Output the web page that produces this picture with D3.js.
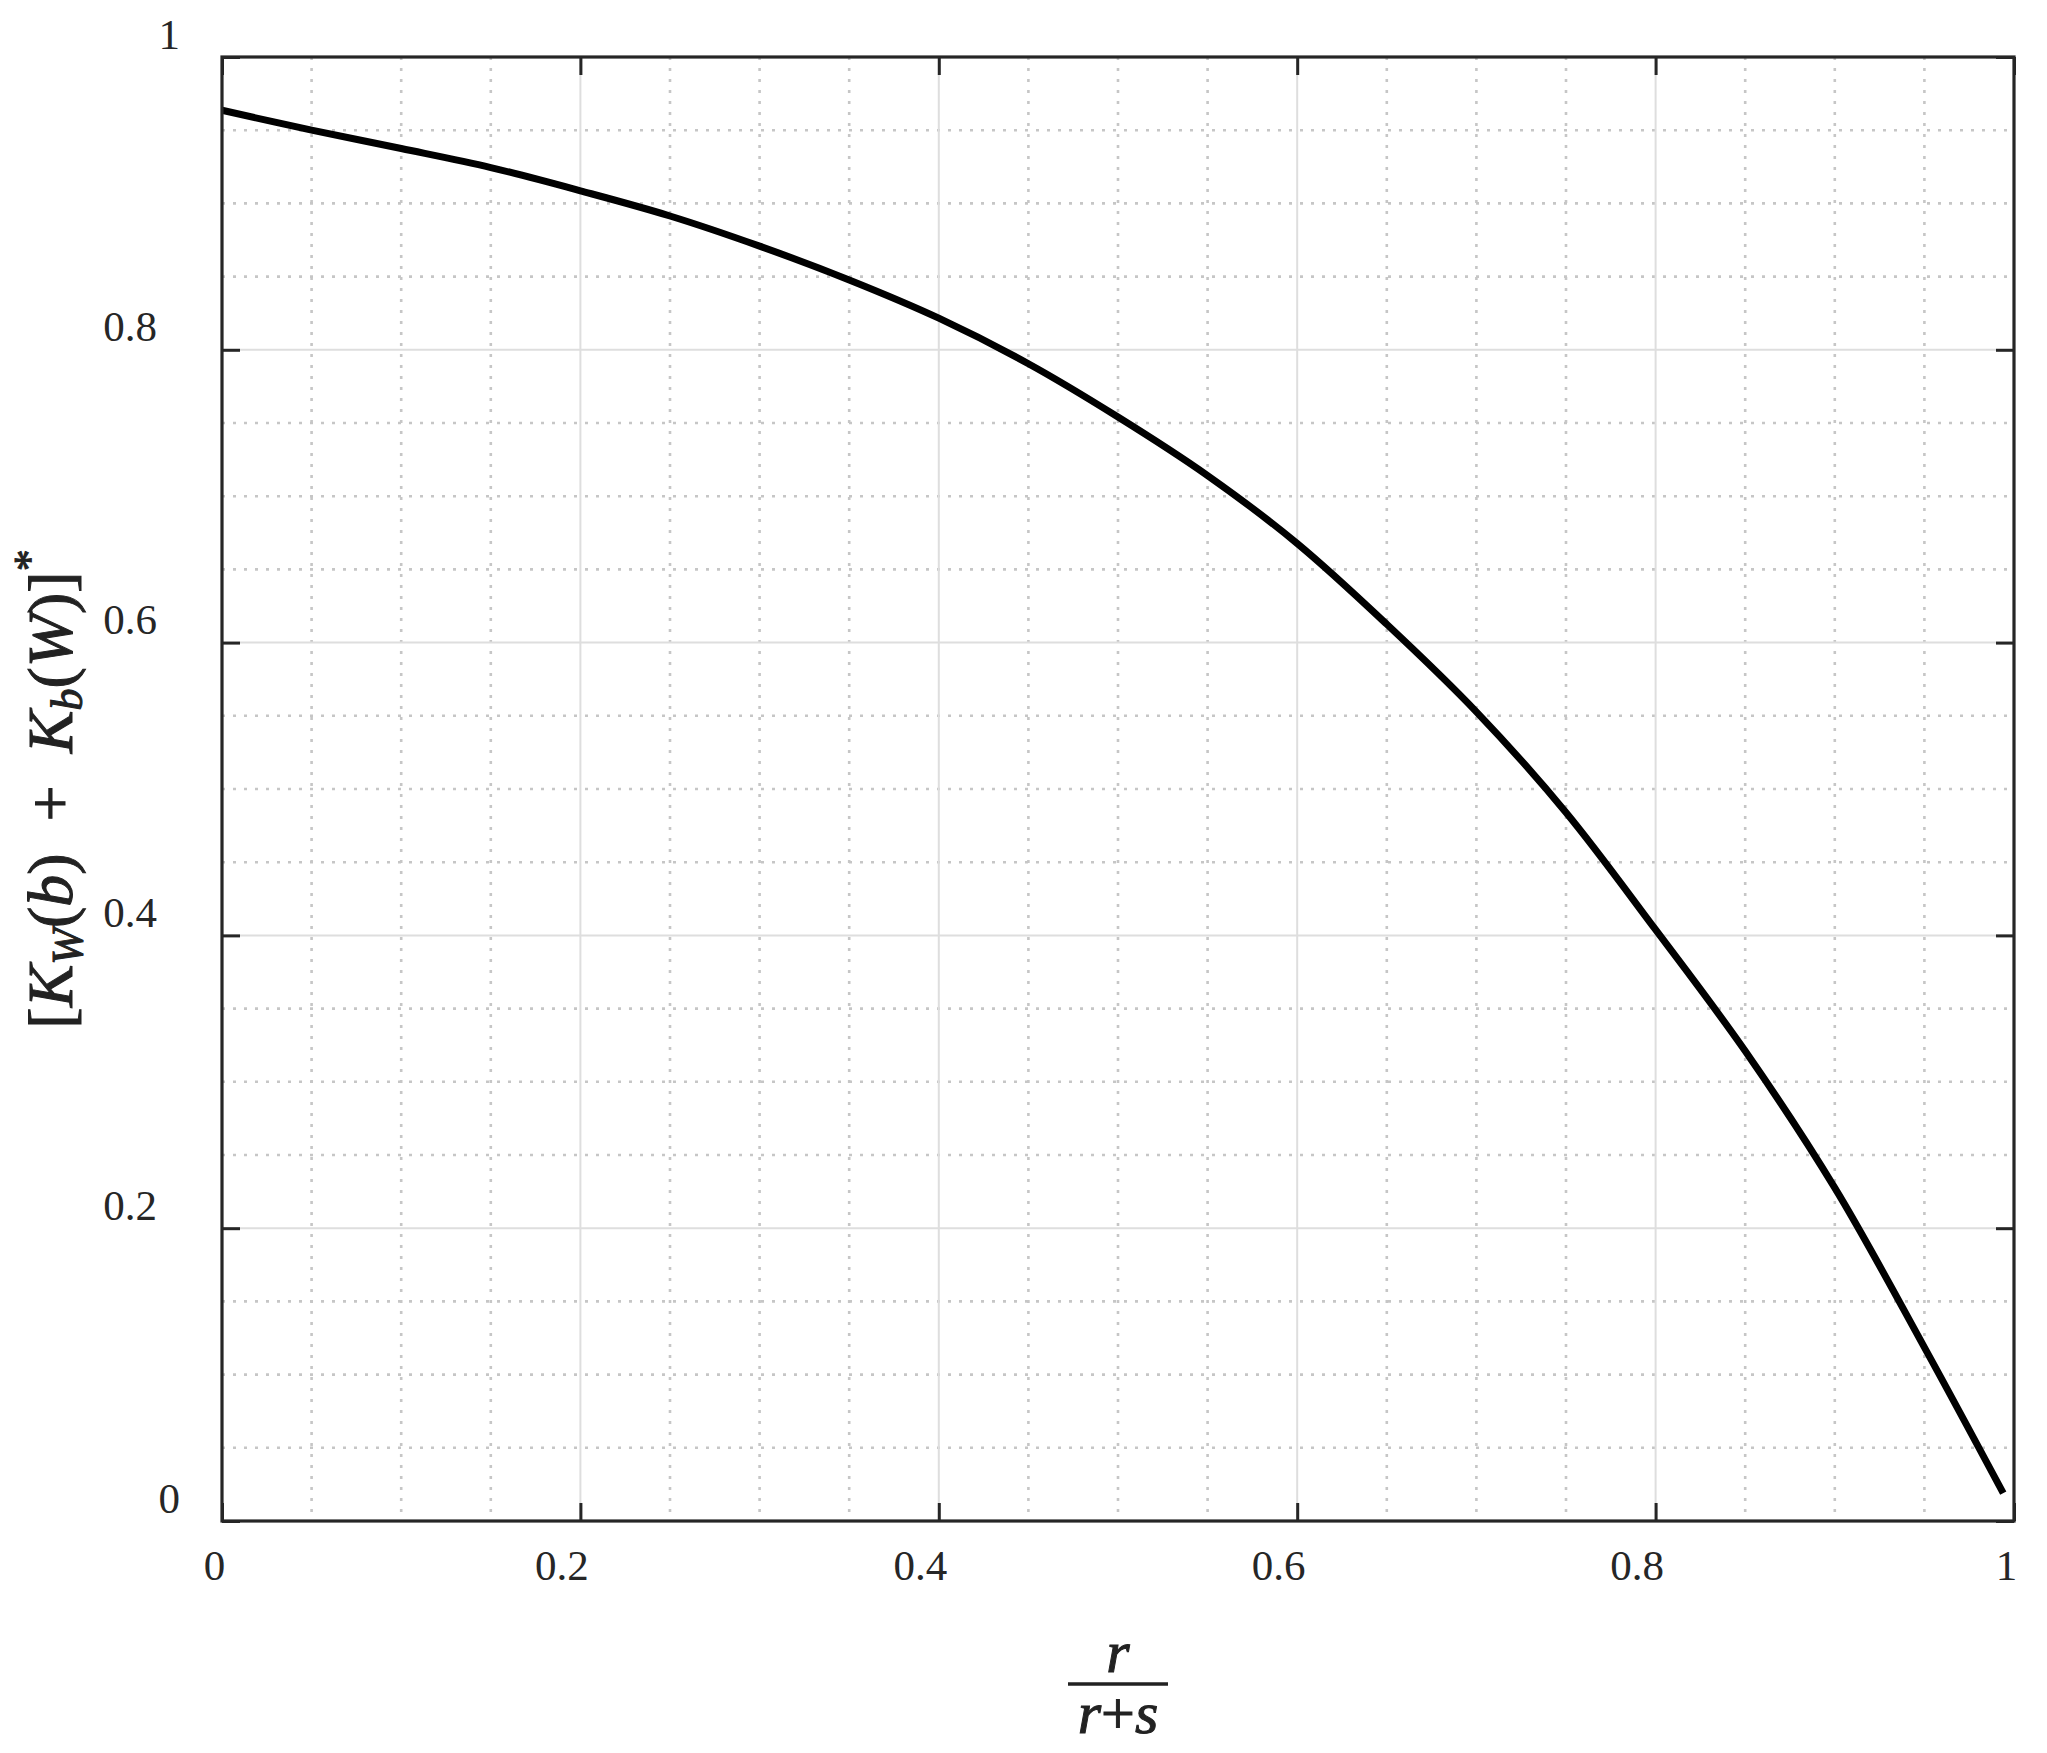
<!DOCTYPE html>
<html>
<head>
<meta charset="utf-8">
<script src="https://cdn.jsdelivr.net/npm/d3@7"></script>
<style>
  body { margin: 0; background: #fff; }
  svg { display: block; }
</style>
</head>
<body>
<svg id="chart"></svg>
<script>
// values
const ratio = [0, 0.05, 0.1, 0.15, 0.2, 0.25, 0.3, 0.35, 0.4, 0.45, 0.5, 0.55, 0.6, 0.65, 0.7, 0.75, 0.8, 0.85, 0.9, 0.95, 0.994];
const kSum = [0.9636, 0.950, 0.9375, 0.9245, 0.9086, 0.8914, 0.8708, 0.8477, 0.8216, 0.7905, 0.7541, 0.7141, 0.6677, 0.6125, 0.5527, 0.4840, 0.4039, 0.3210, 0.2275, 0.1186, 0.0190];

const xTicks = [0, 0.2, 0.4, 0.6, 0.8, 1];
const xTickLabels = ["0", "0.2", "0.4", "0.6", "0.8", "1"];
const yTicks = [0, 0.2, 0.4, 0.6, 0.8, 1];
const yTickLabels = ["0", "0.2", "0.4", "0.6", "0.8", "1"];
const minorStep = 0.05;

const width = 2047, height = 1753;
const margin = {top: 57, right: 33, bottom: 232, left: 222};
const innerW = width - margin.left - margin.right;
const innerH = height - margin.top - margin.bottom;
const axisColor = '#262626';
const serif = '"Liberation Serif", "Times New Roman", serif';

const svg = d3.select('#chart')
    .attr('width', width)
    .attr('height', height);

const chart = svg.append('g')
    .attr('transform', `translate(${margin.left}, ${margin.top})`);

const xscale = d3.scaleLinear().domain([0, 1]).range([0, innerW]);
const yscale = d3.scaleLinear().domain([0, 1]).range([innerH, 0]);

// minor grid (dotted), skipping major positions
const minor = d3.range(0, 1 + 1e-9, minorStep).filter(v => !xTicks.some(t => Math.abs(t - v) < 1e-6));

chart.append('g').selectAll('line')
    .data(minor)
    .join('line')
    .attr('x1', d => xscale(d)).attr('x2', d => xscale(d))
    .attr('y1', 0).attr('y2', innerH)
    .attr('stroke', '#c6c6c6').attr('stroke-width', 2.6)
    .attr('stroke-dasharray', '3,8');

chart.append('g').selectAll('line')
    .data(minor)
    .join('line')
    .attr('y1', d => yscale(d)).attr('y2', d => yscale(d))
    .attr('x1', 0).attr('x2', innerW)
    .attr('stroke', '#c6c6c6').attr('stroke-width', 2.6)
    .attr('stroke-dasharray', '3,8');

// major grid (solid)
chart.append('g').selectAll('line')
    .data(xTicks)
    .join('line')
    .attr('x1', d => xscale(d)).attr('x2', d => xscale(d))
    .attr('y1', 0).attr('y2', innerH)
    .attr('stroke', '#dedede').attr('stroke-width', 2);

chart.append('g').selectAll('line')
    .data(yTicks)
    .join('line')
    .attr('y1', d => yscale(d)).attr('y2', d => yscale(d))
    .attr('x1', 0).attr('x2', innerW)
    .attr('stroke', '#dedede').attr('stroke-width', 2);

// curve
const points = ratio.map((r, i) => [r, kSum[i]]);
chart.append('path')
    .datum(points)
    .attr('fill', 'none')
    .attr('stroke', '#000')
    .attr('stroke-width', 7)
    .attr('d', d3.line()
        .x(d => xscale(d[0]))
        .y(d => yscale(d[1]))
        .curve(d3.curveCatmullRom.alpha(0.5)));

// axes with inward ticks on all four sides
function styleAxis(g) {
    g.attr('font-family', null);
    g.select('.domain').remove();
    g.selectAll('.tick line').attr('stroke', axisColor).attr('stroke-width', 3);
    g.selectAll('.tick text')
        .attr('fill', axisColor)
        .style('font-family', serif)
        .attr('font-size', 43);
}

const xaxis = d3.axisBottom(xscale)
    .tickValues(xTicks)
    .tickFormat((d, i) => xTickLabels[i])
    .tickSize(-18);
chart.append('g')
    .attr('transform', `translate(0, ${innerH})`)
    .call(xaxis)
    .call(styleAxis)
    .call(g => g.selectAll('.tick text')
        .attr('y', 59).attr('dy', null)
        .attr('text-anchor', 'middle')
        .attr('dx', d => String(d).includes('.') ? -19 : -8));

chart.append('g')
    .call(d3.axisTop(xscale).tickValues(xTicks).tickFormat('').tickSize(-18))
    .call(styleAxis);

const yaxis = d3.axisLeft(yscale)
    .tickValues(yTicks)
    .tickFormat((d, i) => yTickLabels[i])
    .tickSize(-18);
chart.append('g')
    .call(yaxis)
    .call(styleAxis)
    .call(g => g.selectAll('.tick text')
        .attr('x', d => String(d).includes('.') ? -65 : -42)
        .attr('y', -9).attr('dy', null)
        .attr('text-anchor', 'end'));

chart.append('g')
    .attr('transform', `translate(${innerW}, 0)`)
    .call(d3.axisRight(yscale).tickValues(yTicks).tickFormat('').tickSize(-18))
    .call(styleAxis);

// box
chart.append('rect')
    .attr('x', 0).attr('y', 0)
    .attr('width', innerW).attr('height', innerH)
    .attr('fill', 'none')
    .attr('stroke', axisColor)
    .attr('stroke-width', 3.2);

// x label: r / (r+s)
const xl = svg.append('g')
    .attr('transform', `translate(${margin.left + innerW / 2}, 0)`)
    .attr('fill', '#222')
    .attr('stroke', '#222')
    .attr('stroke-width', 1);

xl.append('text')
    .attr('x', 0).attr('y', 1672)
    .attr('text-anchor', 'middle')
    .attr('font-size', 60)
    .style('font-family', serif)
    .style('font-style', 'italic')
    .text('r');

const den = xl.append('text')
    .attr('x', 0).attr('y', 1733)
    .attr('text-anchor', 'middle')
    .attr('font-size', 60)
    .style('font-family', serif);
den.append('tspan').style('font-style', 'italic').text('r');
den.append('tspan').text('+');
den.append('tspan').style('font-style', 'italic').text('s');

const bw = Math.max(100, den.node().getBBox().width + 4);
xl.append('line')
    .attr('x1', -bw / 2).attr('x2', bw / 2)
    .attr('y1', 1684).attr('y2', 1684)
    .attr('stroke-width', 3.5);

// y label: [K_W(b) + K_b(W)]^*
const yl = svg.append('text')
    .attr('transform', `translate(72, ${margin.top + innerH / 2}) rotate(-90)`)
    .attr('text-anchor', 'middle')
    .attr('font-size', 64)
    .style('font-family', serif)
    .attr('fill', '#222')
    .attr('stroke', '#222')
    .attr('stroke-width', 1);

yl.append('tspan').text('[');
yl.append('tspan').style('font-style', 'italic').text('K');
yl.append('tspan').style('font-style', 'italic').attr('font-size', 44).attr('dy', 10).text('W');
yl.append('tspan').attr('dy', -10).text('(');
yl.append('tspan').style('font-style', 'italic').text('b');
yl.append('tspan').text(')\u2002+\u2002');
yl.append('tspan').style('font-style', 'italic').text('K');
yl.append('tspan').style('font-style', 'italic').attr('font-size', 44).attr('dy', 10).text('b');
yl.append('tspan').attr('dy', -10).text('(');
yl.append('tspan').style('font-style', 'italic').text('W');
yl.append('tspan').text(')]');
yl.append('tspan').attr('font-size', 44).attr('dy', -28).text('*');
</script>
</body>
</html>
